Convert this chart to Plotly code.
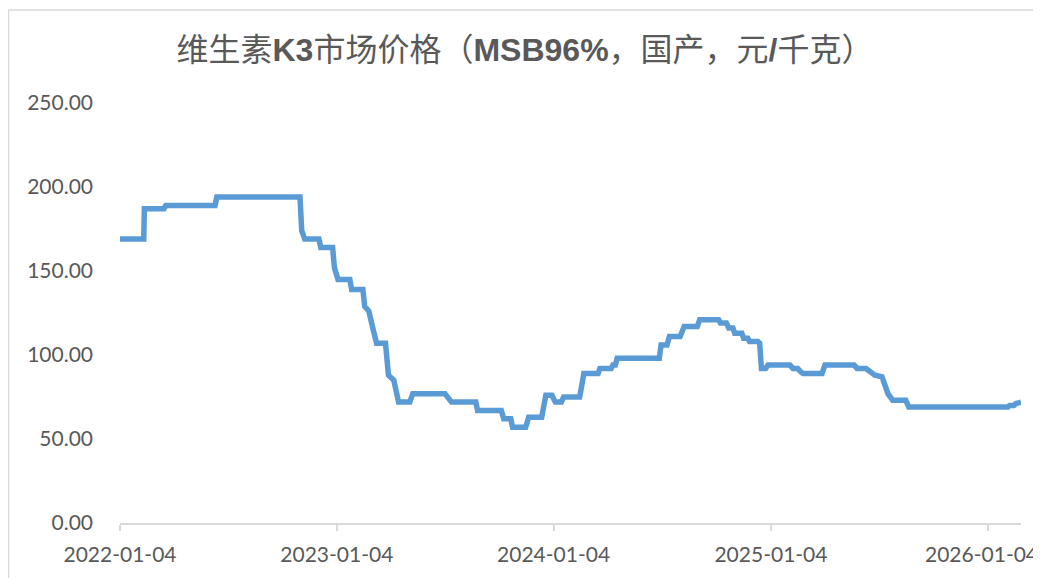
import plotly.graph_objects as go

dates = [
    "2022-01-04", "2022-02-13", "2022-02-14", "2022-03-19", "2022-03-22", "2022-06-13",
    "2022-06-16", "2022-11-03", "2022-11-06", "2022-11-11", "2022-12-05", "2022-12-08",
    "2022-12-28", "2022-12-31", "2023-01-06", "2023-01-26", "2023-01-29", "2023-02-17",
    "2023-02-20", "2023-02-27", "2023-03-07", "2023-03-12", "2023-03-27", "2023-04-01",
    "2023-04-10", "2023-04-18", "2023-05-07", "2023-05-12", "2023-07-05", "2023-07-10",
    "2023-07-16", "2023-08-26", "2023-08-29", "2023-10-08", "2023-10-12", "2023-10-24",
    "2023-10-27", "2023-11-18", "2023-11-23", "2023-12-15", "2023-12-18", "2023-12-22",
    "2024-01-01", "2024-01-07", "2024-01-17", "2024-01-21", "2024-02-17", "2024-02-20",
    "2024-02-24", "2024-03-19", "2024-03-22", "2024-04-10", "2024-04-13", "2024-04-17",
    "2024-04-20", "2024-06-30", "2024-07-03", "2024-07-13", "2024-07-17", "2024-08-04",
    "2024-08-08", "2024-08-11", "2024-09-02", "2024-09-06", "2024-10-08", "2024-10-11",
    "2024-10-21", "2024-10-25", "2024-11-01", "2024-11-04", "2024-11-16", "2024-11-19",
    "2024-11-26", "2024-11-29", "2024-12-13", "2024-12-16", "2024-12-19", "2024-12-26",
    "2024-12-30", "2025-02-05", "2025-02-10", "2025-02-18", "2025-02-23", "2025-02-27",
    "2025-03-31", "2025-04-05", "2025-05-24", "2025-05-29", "2025-06-13", "2025-06-28",
    "2025-07-10", "2025-07-20", "2025-07-28", "2025-08-19", "2025-08-24", "2026-02-07",
    "2026-02-10", "2026-02-17", "2026-02-20", "2026-03-01",
]
prices = [
    169, 169, 187, 187, 189, 189,
    194, 194, 174, 169, 169, 164,
    164, 152, 145, 145, 139, 139,
    129, 126, 114, 107, 107, 88,
    85, 72, 72, 77, 77, 75,
    72, 72, 67, 67, 62, 62,
    57, 57, 63, 63, 71, 76,
    76, 72, 72, 75, 75, 82,
    89, 89, 92, 92, 94, 94,
    98, 98, 106, 106, 111, 111,
    114, 117, 117, 121, 121, 119,
    119, 116, 116, 113, 113, 110,
    110, 108, 108, 107, 92, 92,
    94, 94, 92, 92, 90, 89,
    89, 94, 94, 92, 92, 88,
    87, 77, 73, 73, 69, 69,
    70, 70, 71, 72,
]
tick_dates = ["2022-01-04", "2023-01-04", "2024-01-04", "2025-01-04", "2026-01-04"]
tick_labels = ["2022-01-04", "2023-01-04", "2024-01-04", "2025-01-04", "2026-01-04"]
y_ticks = [0, 50, 100, 150, 200, 250]
y_labels = ["0.00", "50.00", "100.00", "150.00", "200.00", "250.00"]

title_text = "维生素<b>K3</b>市场价格（<b>MSB96%</b>，国产，元<b>/</b>千克）"

fig = go.Figure()
fig.add_trace(go.Scatter(
    x=dates, y=prices, mode="lines",
    line=dict(color="#5b9bd5", width=5.5),
    hoverinfo="x+y", showlegend=False,
))

W, H = 1033, 570
L, R, T, B = 112, 20, 95, 55
pw = W - L - R
ph = H - T - B

tick_font = dict(family="Lato", size=21, color="#595959")
# the last date label sits at the right edge; draw it right-aligned so it stays inside
shown_labels = tick_labels[:-1] + [""]

fig.update_layout(
    width=W, height=H,
    margin=dict(l=L, r=R, t=T, b=B, autoexpand=False),
    paper_bgcolor="white", plot_bgcolor="white",
    title=dict(
        text=title_text, x=517 / W, xanchor="center", y=1 - 42 / H, yanchor="middle",
        font=dict(family="Liberation Sans, Noto Sans CJK SC", size=32, color="#595959"),
        automargin=False,
    ),
    xaxis=dict(
        type="date", automargin=False,
        range=[dates[0], dates[-1]],
        tickmode="array", tickvals=tick_dates, ticktext=shown_labels,
        ticks="outside", ticklen=6, tickcolor="#d9d9d9", tickwidth=1.5,
        showline=True, linecolor="#d9d9d9", linewidth=2,
        showgrid=False, zeroline=False,
        tickfont=tick_font,
        ticklabelstandoff=6,
    ),
    yaxis=dict(
        range=[0, 250], automargin=False,
        tickmode="array", tickvals=y_ticks, ticktext=y_labels,
        showgrid=False, zeroline=False, showline=False,
        tickfont=tick_font,
        ticklabelstandoff=26,
    ),
    annotations=[dict(
        text=tick_labels[-1], xref="paper", yref="paper",
        x=(W - 1 - L) / pw, y=0, xanchor="right", yanchor="middle",
        yshift=-30, showarrow=False, font=tick_font,
    )],
    shapes=[dict(
        type="rect", xref="paper", yref="paper",
        x0=(0.5 - L) / pw, x1=(W + 10 - L) / pw,
        y0=-(B + 10) / ph, y1=(H - B - 2) / ph,
        line=dict(color="#d9d9d9", width=1.5), fillcolor="rgba(0,0,0,0)",
        layer="below",
    )],
)

fig.write_html("out.html")
